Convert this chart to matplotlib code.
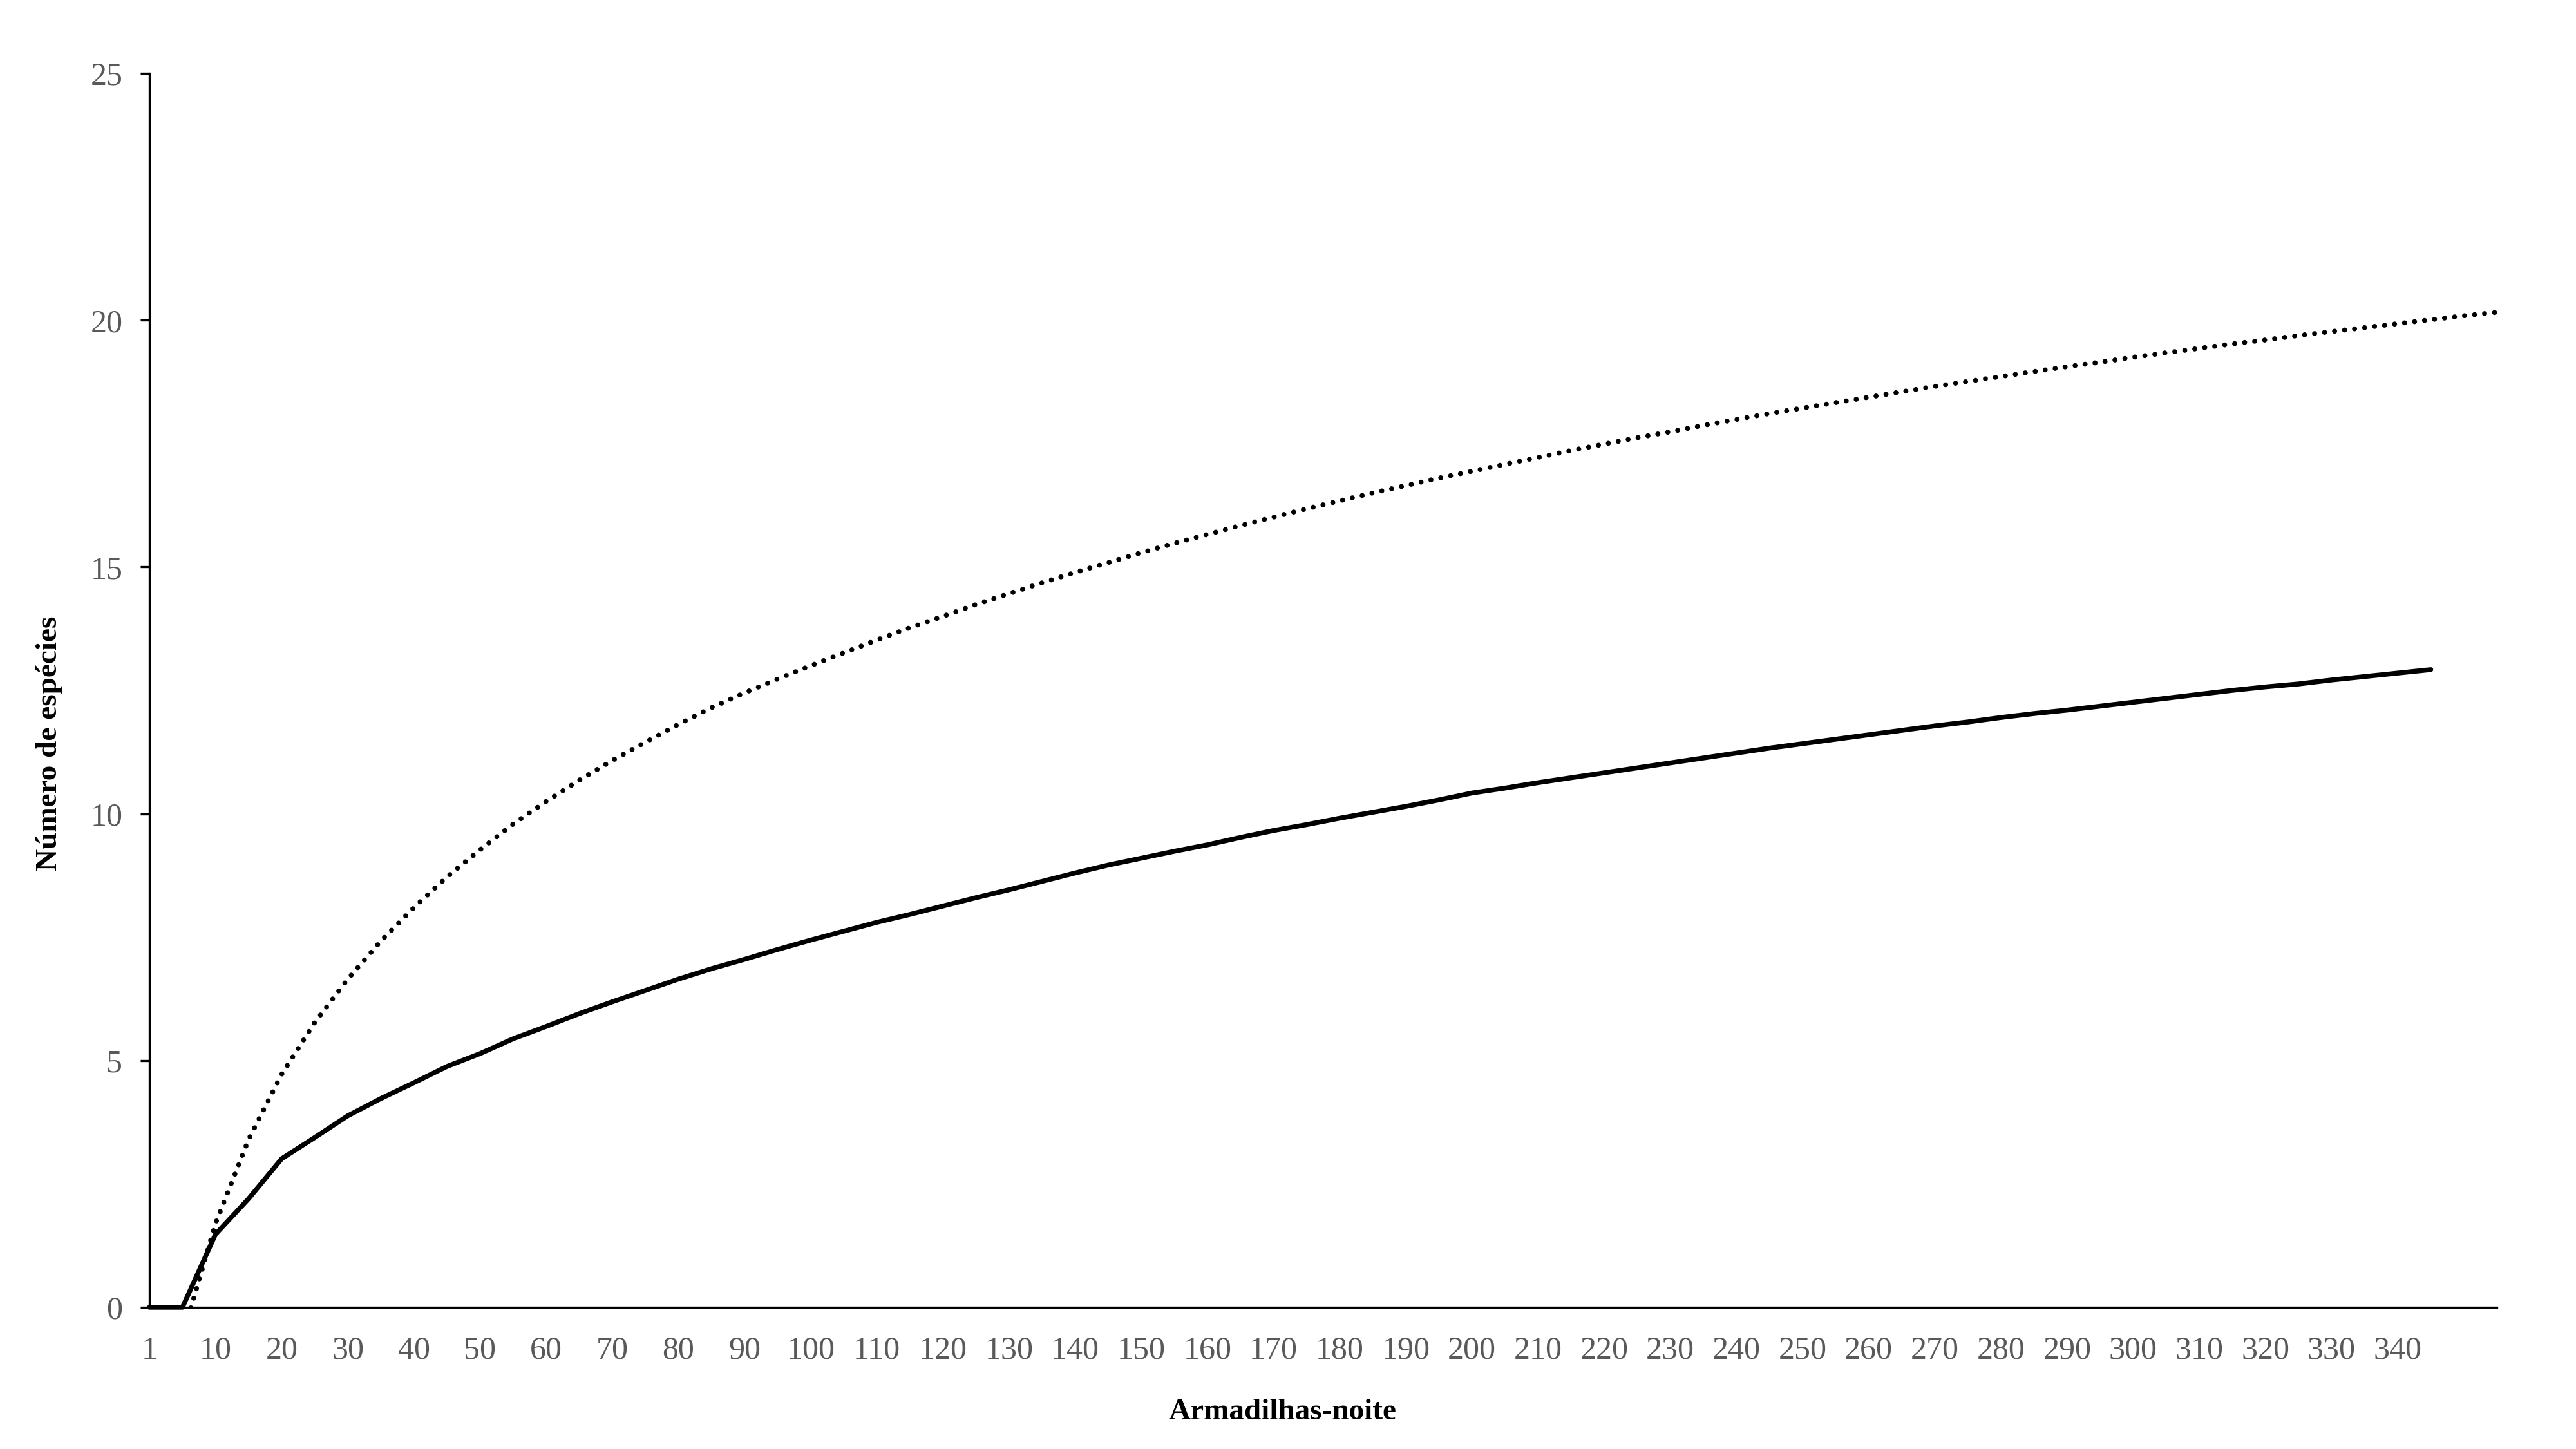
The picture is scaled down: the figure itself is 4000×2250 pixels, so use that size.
import matplotlib.pyplot as plt
from matplotlib.ticker import FixedLocator

plt.rcParams['font.family'] = ['Liberation Serif', 'DejaVu Serif']

# categorias do eixo x (armadilhas-noite)
categorias = [1, 5, 10, 15, 20, 25, 30, 35, 40, 45, 50, 55, 60, 65, 70, 75, 80, 85,
              90, 95, 100, 105, 110, 115, 120, 125, 130, 135, 140, 145, 150, 155, 160,
              165, 170, 175, 180, 185, 190, 195, 200, 205, 210, 215, 220, 225, 230, 235,
              240, 245, 250, 255, 260, 265, 270, 275, 280, 285, 290, 295, 300, 305, 310,
              315, 320, 325, 330, 335, 340, 345, 350, 355]

# especies observadas (curva de acumulacao), de 1 ate 345
observadas = [0, 0, 1.48, 2.20, 3.01, 3.44, 3.88, 4.23, 4.55, 4.88,
              5.14, 5.44, 5.69, 5.95, 6.19, 6.42, 6.65, 6.86, 7.05, 7.25,
              7.44, 7.62, 7.80, 7.96, 8.13, 8.30, 8.46, 8.63, 8.80, 8.96,
              9.10, 9.24, 9.37, 9.52, 9.66, 9.78, 9.91, 10.03, 10.15, 10.28,
              10.42, 10.52, 10.63, 10.73, 10.83, 10.93, 11.03, 11.13, 11.23, 11.33,
              11.42, 11.51, 11.60, 11.69, 11.78, 11.86, 11.95, 12.03, 12.10, 12.18,
              12.26, 12.34, 12.42, 12.50, 12.57, 12.63, 12.71, 12.78, 12.85, 12.92]

# linha pontilhada, comeca na categoria 5
tendencia = [-0.60, 1.70, 3.40, 4.72, 5.77, 6.65, 7.42, 8.10, 8.72,
             9.27, 9.79, 10.25, 10.68, 11.08, 11.45, 11.81, 12.15, 12.45, 12.73,
             13.00, 13.26, 13.52, 13.77, 14.00, 14.24, 14.46, 14.68, 14.89, 15.09,
             15.29, 15.48, 15.66, 15.84, 16.01, 16.18, 16.34, 16.50, 16.65, 16.80,
             16.94, 17.08, 17.22, 17.36, 17.49, 17.62, 17.74, 17.87, 17.99, 18.11,
             18.22, 18.33, 18.44, 18.55, 18.66, 18.76, 18.86, 18.96, 19.06, 19.15,
             19.25, 19.34, 19.43, 19.52, 19.60, 19.69, 19.77, 19.85, 19.93, 20.01,
             20.09, 20.16]

rotulos_x = [1, 10, 20, 30, 40, 50, 60, 70, 80, 90, 100, 110, 120, 130, 140, 150,
             160, 170, 180, 190, 200, 210, 220, 230, 240, 250, 260, 270, 280, 290,
             300, 310, 320, 330, 340]
marcas_y = [0, 5, 10, 15, 20, 25]

cinza = '#595959'

fig = plt.figure(figsize=(10, 5.625), dpi=400)
ax = fig.add_axes([0.058, 0.0978, 0.9113, 0.8515])

ax.plot(range(len(observadas)), observadas, color='black', lw=1.35,
        solid_joinstyle='round', solid_capstyle='round', clip_on=False, zorder=3)
ax.plot(range(1, 1 + len(tendencia)), tendencia, color='black', lw=1.4,
        linestyle=(0, (0.01, 2.0)), dash_capstyle='round', zorder=2)

ax.set_xlim(0, len(categorias) - 1)
ax.set_ylim(0, 25)

for s in ['top', 'right']:
    ax.spines[s].set_visible(False)
for s in ['left', 'bottom']:
    ax.spines[s].set_linewidth(0.6)
    ax.spines[s].set_color('black')

pos_x = [categorias.index(v) for v in rotulos_x]
ax.set_xticks(pos_x)
ax.set_xticklabels([str(v) for v in rotulos_x], color=cinza, fontsize=9)
ax.tick_params(axis='x', which='major', length=0, pad=8)
ax.xaxis.set_minor_locator(FixedLocator([0, 30, 60]))
ax.tick_params(axis='x', which='minor', length=2.8, width=0.6, direction='out', color='black')

ax.set_yticks(marcas_y)
ax.set_yticklabels([str(v) for v in marcas_y], color=cinza, fontsize=9)
ax.tick_params(axis='y', length=2.5, width=0.6, direction='out', color='black', pad=5)

fig.text(0.4978, 0.0253, 'Armadilhas-noite', ha='center', va='center',
         fontsize=8.5, fontweight='bold')
fig.text(0.0193, 0.487, 'Número de espécies', ha='center', va='center',
         rotation=90, fontsize=8.5, fontweight='bold')

fig.savefig('out.png', dpi=400)
